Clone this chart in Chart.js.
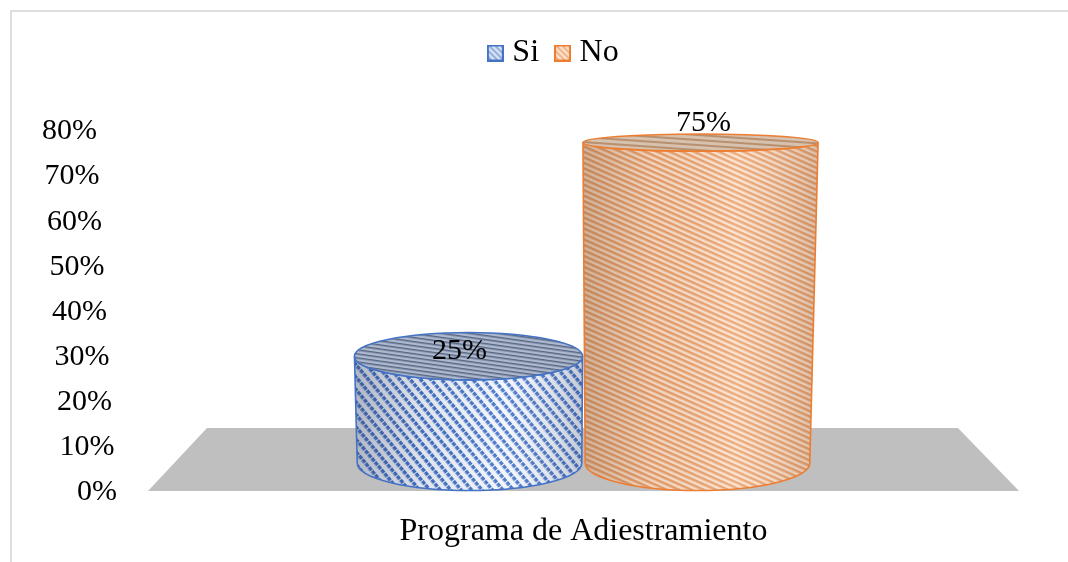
<!DOCTYPE html>
<html>
<head>
<meta charset="utf-8">
<style>
  html, body { margin: 0; padding: 0; background: #fff; }
  #wrap { position: relative; width: 1068px; height: 562px; }
</style>
<script src="https://cdn.jsdelivr.net/npm/chart.js@4"></script>
</head>
<body>
<div id="wrap"><canvas id="chart" width="1068" height="562"></canvas></div>
<script>
const categories = ["Programa de Adiestramiento"];
const seriesNames = ["Si", "No"];
const siValues = [25];
const noValues = [75];
const FONT = "'Liberation Serif', 'Times New Roman', serif";

// small repeating tile: one stripe per row, dash sets the dotted look
function makeTile(w, h, bg, fg, lineH, dash) {
  const c = document.createElement("canvas");
  c.width = w;
  c.height = h;
  const t = c.getContext("2d");
  t.fillStyle = bg;
  t.fillRect(0, 0, w, h);
  t.fillStyle = fg;
  t.fillRect(0, 0, dash, lineH);
  return c;
}

function makePattern(ctx, tile, angle) {
  const p = ctx.createPattern(tile, "repeat");
  p.setTransform(new DOMMatrix().rotate(angle));
  return p;
}

// legend swatch
function makeSwatch(bg, fg, border) {
  const c = document.createElement("canvas");
  c.width = 17;
  c.height = 17;
  const t = c.getContext("2d");
  t.fillStyle = bg;
  t.fillRect(0, 0, 17, 17);
  t.strokeStyle = fg;
  t.lineWidth = 2;
  for (let i = -17; i < 17; i += 6) {
    t.beginPath();
    t.moveTo(i, 0);
    t.lineTo(i + 17, 17);
    t.stroke();
  }
  t.strokeStyle = border;
  t.lineWidth = 2;
  t.strokeRect(1, 1, 15, 15);
  return c;
}

const ctx = document.getElementById("chart").getContext("2d");

const looks = [
  {
    line: "#4472c4",
    side: makePattern(ctx, makeTile(5, 8, "#f2f6fc", "#3f6fc6", 3.5, 4), 50),
    top: makePattern(ctx, makeTile(4, 4, "#aeb9ce", "#566683", 1.5, 4), 8),
    shade: ["rgba(60,70,100,0.36)", "rgba(60,70,100,0.1)", "rgba(255,255,255,0.1)", "rgba(60,70,100,0.25)"],
    label: [-10, -27],
  },
  {
    line: "#ed7d31",
    side: makePattern(ctx, makeTile(4, 5, "#fde2ce", "#e8a06c", 2.5, 4), 24),
    top: makePattern(ctx, makeTile(4, 5, "#d6c2af", "#b8906e", 2, 4), 4),
    shade: ["rgba(110,70,40,0.3)", "rgba(110,70,40,0.08)", "rgba(255,255,255,0.12)", "rgba(110,70,40,0.22)"],
    label: [6, -29.5],
  },
];

// faked 3D: ellipses get flatter and wider the higher they sit
function ring(chart, bar, height) {
  const mid = (chart.chartArea.left + chart.chartArea.right) / 2;
  return {
    x: mid + (bar.x - mid) * (1 + height * 0.000083),
    y: bar.base - 28 - height,
    rx: (bar.width / 2) * 0.985 + height * 0.0165,
    ry: 27.5 - 0.0237 * height - 0.0001106 * height * height,
  };
}

function drawCylinder(chart, bar, look) {
  const c = chart.ctx;
  const low = ring(chart, bar, 0);
  const high = ring(chart, bar, (bar.base - bar.y) * 0.948);

  c.save();
  const side = new Path2D();
  side.moveTo(high.x - high.rx, high.y);
  side.lineTo(low.x - low.rx, low.y);
  side.ellipse(low.x, low.y, low.rx, low.ry, 0, Math.PI, 0, true);
  side.lineTo(high.x + high.rx, high.y);
  side.ellipse(high.x, high.y, high.rx, high.ry, 0, 0, Math.PI, false);
  side.closePath();
  c.fillStyle = look.side;
  c.fill(side);

  const g = c.createLinearGradient(high.x - high.rx, 0, high.x + high.rx, 0);
  g.addColorStop(0, look.shade[0]);
  g.addColorStop(0.3, look.shade[1]);
  g.addColorStop(0.65, look.shade[2]);
  g.addColorStop(1, look.shade[3]);
  c.fillStyle = g;
  c.fill(side);

  c.strokeStyle = look.line;
  c.lineWidth = 1.6;
  c.stroke(side);

  c.beginPath();
  c.ellipse(high.x, high.y, high.rx, high.ry, 0, 0, Math.PI * 2);
  c.fillStyle = look.top;
  c.fill();
  c.stroke();
  c.restore();
}

const scene = {
  id: "scene",
  beforeInit(chart) {
    // room under the legend, the plot starts at the 80% label
    const fit = chart.legend.fit;
    chart.legend.fit = function () {
      fit.call(this);
      this.height += 51.5;
    };
  },
  afterLayout(chart) {
    // legend sits right of the page centre in the original
    chart.legend.left += 47;
    chart.legend.right += 47;
  },
  beforeDraw(chart) {
    const c = chart.ctx;
    c.save();
    c.fillStyle = "#fff";
    c.fillRect(0, 0, chart.width, chart.height);
    c.fillStyle = "#dedede";
    c.fillRect(10, 10, chart.width - 10, 2);
    c.fillRect(10, 10, 2, chart.height - 10);
    c.restore();

    // value labels lean with the floor
    const y = chart.scales.y;
    y.getLabelItems().forEach((item, i) => {
      if (!item.leaned) {
        item.options.translation[0] -= y.ticks[i].value * 0.25;
        item.options.translation[1] += 1;
        item.leaned = true;
      }
    });
  },
  beforeDatasetsDraw(chart) {
    const a = chart.chartArea;
    const c = chart.ctx;
    c.save();
    c.fillStyle = "#bfbfbf";
    c.beginPath();
    c.moveTo(a.left, a.bottom);
    c.lineTo(a.left + 59, a.bottom - 63);
    c.lineTo(a.right - 61, a.bottom - 63);
    c.lineTo(a.right, a.bottom);
    c.closePath();
    c.fill();
    c.restore();
  },
  beforeDatasetDraw(chart, args) {
    chart.getDatasetMeta(args.index).data.forEach((bar) => {
      drawCylinder(chart, bar, looks[args.index]);
    });
    return false;
  },
  afterDatasetsDraw(chart) {
    const c = chart.ctx;
    c.save();
    c.font = "30px " + FONT;
    c.fillStyle = "#000";
    c.textAlign = "center";
    c.textBaseline = "middle";
    chart.data.datasets.forEach((ds, i) => {
      chart.getDatasetMeta(i).data.forEach((bar, j) => {
        c.fillText(ds.data[j] + "%", bar.x + looks[i].label[0], bar.y + looks[i].label[1]);
      });
    });
    c.restore();
  },
};

new Chart(ctx, {
  type: "bar",
  data: {
    labels: categories,
    datasets: [
      {
        label: seriesNames[0],
        data: siValues,
        backgroundColor: "#4472c4",
        pointStyle: makeSwatch("#dfe8f6", "#8fabdd", "#4472c4"),
      },
      {
        label: seriesNames[1],
        data: noValues,
        backgroundColor: "#ed7d31",
        pointStyle: makeSwatch("#fde6d5", "#f4b183", "#ed7d31"),
      },
    ],
  },
  options: {
    responsive: false,
    animation: false,
    barPercentage: 1,
    categoryPercentage: 0.5235,
    layout: { autoPadding: false, padding: { top: 14.5, right: 49, bottom: 0, left: 0 } },
    plugins: {
      tooltip: { enabled: false },
      legend: {
        position: "top",
        labels: {
          usePointStyle: true,
          boxWidth: 2,
          padding: 22.5,
          color: "#000",
          font: { family: FONT, size: 32 },
          generateLabels(chart) {
            return chart.data.datasets.map((ds, i) => ({
              text: ds.label,
              pointStyle: ds.pointStyle,
              datasetIndex: i,
              fontColor: "#000",
            }));
          },
        },
      },
    },
    scales: {
      x: {
        grid: { display: false, drawTicks: false },
        border: { display: false },
        ticks: { color: "#000", padding: 21.5, font: { family: FONT, size: 32 } },
        afterFit(scale) {
          scale.height = 71;
        },
      },
      y: {
        min: 0,
        max: 80,
        grid: { display: false, drawTicks: false },
        border: { display: false },
        ticks: {
          stepSize: 10,
          autoSkip: false,
          color: "#000",
          padding: 31,
          font: { family: FONT, size: 30 },
          callback: (v) => v + "%",
        },
        afterFit(scale) {
          scale.width = 148;
        },
      },
    },
  },
  plugins: [scene],
});
</script>
</body>
</html>
